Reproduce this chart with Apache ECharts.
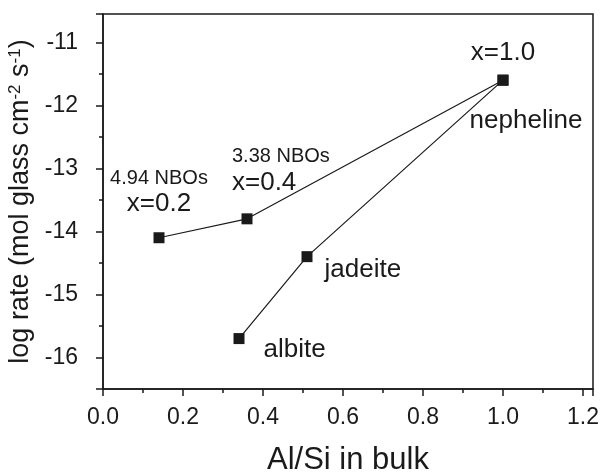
<!DOCTYPE html>
<html>
<head>
<meta charset="utf-8">
<script src="https://cdn.jsdelivr.net/npm/echarts@6/dist/echarts.min.js"></script>
<style>
  html, body { margin: 0; padding: 0; background: #fff; }
  #chart { width: 603px; height: 475px; }
</style>
</head>
<body>
<div id="chart"></div>
<script>
// Al/Si ratio vs log dissolution rate
const nboX = [0.14, 0.36, 1.0];          // NBO series (x = 0.2, 0.4, 1.0)
const nboY = [-14.1, -13.8, -11.6];
const mineralX = [0.34, 0.51, 1.0];      // albite, jadeite, nepheline
const mineralY = [-15.7, -14.4, -11.6];
const nboTexts = ['4.94 NBOs', '3.38 NBOs'];
const xTexts = ['x=0.2', 'x=0.4', 'x=1.0'];
const mineralNames = ['albite', 'jadeite', 'nepheline'];

const FONT = '"Liberation Sans", Arial, sans-serif';
const INK = '#1a1a1a';

const chart = echarts.init(document.getElementById('chart'), null, { renderer: 'canvas' });

const nboData = nboX.map((x, i) => {
  const item = { value: [x, nboY[i]] };
  if (i === 0) {
    item.label = {
      show: true, position: 'top', distance: 14,
      formatter: '{a|' + nboTexts[0] + '}\n{b|' + xTexts[0] + '}'
    };
  } else if (i === 1) {
    item.label = {
      show: true, position: 'top', distance: 17, align: 'left', offset: [-15, 0],
      formatter: '{al|' + nboTexts[1] + '}\n{bl|' + xTexts[1] + '}'
    };
  } else {
    item.label = {
      show: true, position: 'top', distance: 8,
      formatter: '{b|' + xTexts[2] + '}'
    };
  }
  return item;
});

const mineralData = mineralX.map((x, i) => {
  const item = { value: [x, mineralY[i]] };
  if (i === 0) {
    item.label = { show: true, position: 'right', distance: 19, offset: [0, 11], formatter: mineralNames[0] };
  } else if (i === 1) {
    item.label = { show: true, position: 'right', distance: 12, offset: [0, 13], formatter: mineralNames[1] };
  } else {
    item.label = { show: true, position: 'bottom', distance: 22, offset: [23, 0], formatter: mineralNames[2] };
  }
  return item;
});

const labelRich = {
  a: { fontSize: 20, fontFamily: FONT, color: INK, lineHeight: 24, align: 'center' },
  b: { fontSize: 26, fontFamily: FONT, color: INK, lineHeight: 28, align: 'center' },
  al: { fontSize: 20, fontFamily: FONT, color: INK, lineHeight: 24, align: 'left' },
  bl: { fontSize: 26, fontFamily: FONT, color: INK, lineHeight: 28, align: 'left' }
};

const option = {
  animation: false,
  backgroundColor: '#fff',
  grid: {
    left: 103, right: 10, top: 14, bottom: 86,
    outerBoundsMode: 'none',
    show: true, borderColor: INK, borderWidth: 1.5, backgroundColor: 'transparent'
  },
  xAxis: {
    type: 'value',
    min: 0, max: 1.225, interval: 0.2,
    name: 'Al/Si in bulk',
    nameLocation: 'middle', nameGap: 56,
    nameTextStyle: { fontSize: 31, fontFamily: FONT, color: INK },
    axisLine: { show: true, lineStyle: { color: INK, width: 1.5 } },
    axisTick: { show: true, inside: false, length: 7, lineStyle: { color: INK, width: 1.5 } },
    minorTick: { show: true, splitNumber: 2, length: 4, lineStyle: { color: INK, width: 1.5 } },
    splitLine: { show: false },
    axisLabel: {
      fontSize: 23, fontFamily: FONT, color: INK, margin: 17,
      formatter: v => (Math.abs(v * 5 - Math.round(v * 5)) < 1e-6 ? v.toFixed(1) : '')
    }
  },
  yAxis: {
    type: 'value',
    min: -16.5, max: -10.55,
    name: 'log rate (mol glass cm{s|-2} s{s|-1})',
    nameLocation: 'middle', nameGap: 56, nameRotate: 90,
    nameTextStyle: {
      fontSize: 27, fontFamily: FONT, color: INK,
      rich: { s: { fontSize: 17, fontFamily: FONT, color: INK, verticalAlign: 'top', padding: [0, 0, 10, 0] } }
    },
    axisLine: { show: true, lineStyle: { color: INK, width: 1.5 } },
    axisTick: { show: true, inside: false, length: 7, lineStyle: { color: INK, width: 1.5 } },
    minorTick: { show: true, splitNumber: 2, length: 4, lineStyle: { color: INK, width: 1.5 } },
    splitLine: { show: false },
    axisLabel: {
      fontSize: 23, fontFamily: FONT, color: INK, margin: 25,
      formatter: v => (Math.abs(v - Math.round(v)) < 1e-6 ? String(Math.round(v)) : '')
    }
  },
  series: [
    {
      type: 'line',
      data: nboData,
      symbol: 'rect', symbolSize: 11,
      itemStyle: { color: INK },
      lineStyle: { color: INK, width: 1.2 },
      label: { fontFamily: FONT, color: INK, rich: labelRich },
      z: 3
    },
    {
      type: 'line',
      data: mineralData,
      symbol: 'rect', symbolSize: 11,
      itemStyle: { color: INK },
      lineStyle: { color: INK, width: 1.2 },
      label: { fontSize: 26, fontFamily: FONT, color: INK },
      z: 3
    }
  ]
};

chart.setOption(option);
</script>
</body>
</html>
